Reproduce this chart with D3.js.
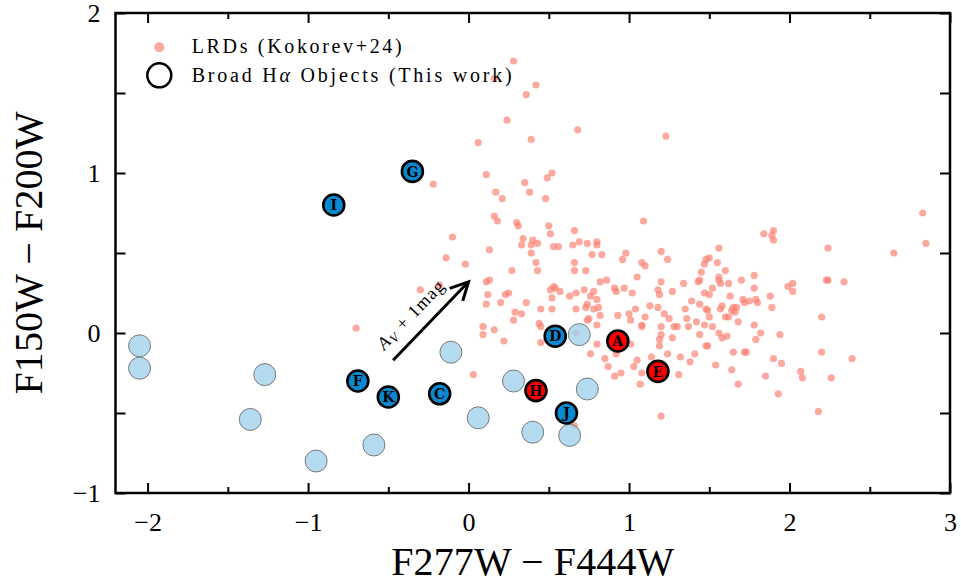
<!DOCTYPE html>
<html>
<head>
<meta charset="utf-8">
<script src="https://cdn.jsdelivr.net/npm/d3@7"></script>
<style>
  body { margin: 0; background: #fff; }
  text { font-family: "Liberation Serif", "DejaVu Serif", serif; }
</style>
</head>
<body>
<div id="chart"></div>
<script>
// --------------------
// DATA
// --------------------
// LRDs (Kokorev+24): [F277W-F444W, F150W-F200W]
const lrdPoints = [
  [0.28,1.70],[0.16,1.59],[0.42,1.55],[0.36,1.49],[0.24,1.33],[0.68,1.27],[0.39,1.21],[0.06,1.19],[1.23,1.23],[0.11,0.99],
  [-0.22,0.93],[0.35,0.94],[0.49,0.97],[0.52,1.00],[0.17,0.88],[0.21,0.84],[0.38,0.88],[0.48,0.84],[0.16,0.73],[0.18,0.70],
  [0.30,0.69],[0.31,0.67],[0.50,0.67],[0.51,0.62],[0.66,0.64],[1.09,0.70],[-0.10,0.60],[0.34,0.59],[0.33,0.55],[0.13,0.52],
  [0.40,0.58],[0.39,0.55],[0.43,0.56],[0.39,0.50],[0.53,0.54],[0.56,0.54],[0.65,0.55],[0.69,0.57],[0.74,0.56],[0.80,0.57],
  [0.80,0.55],[0.77,0.49],[0.83,0.49],[-0.14,0.47],[-0.02,0.43],[0.42,0.44],[0.43,0.39],[0.66,0.44],[0.66,0.39],[0.73,0.39],
  [0.98,0.50],[0.96,0.46],[1.20,0.51],[1.24,0.46],[1.08,0.44],[1.10,0.42],[1.05,0.35],[0.27,0.39],[0.11,0.32],[0.13,0.33],
  [1.20,0.32],[1.34,0.31],[1.43,0.32],[0.82,0.32],[0.86,0.33],[0.91,0.28],[0.92,0.26],[0.97,0.28],[1.02,0.25],[1.18,0.27],
  [1.19,0.24],[1.27,0.26],[1.39,0.20],[0.53,0.29],[0.51,0.27],[0.54,0.28],[0.57,0.26],[0.52,0.22],[0.63,0.23],[0.67,0.25],
  [0.72,0.27],[0.78,0.26],[0.76,0.23],[0.80,0.21],[0.12,0.24],[0.23,0.24],[0.25,0.25],[0.11,0.18],[0.20,0.19],[0.36,0.19],
  [0.74,0.18],[0.73,0.16],[0.78,0.15],[0.81,0.16],[0.82,0.11],[0.67,0.15],[0.52,0.15],[0.45,0.15],[0.29,0.13],[0.33,0.12],
  [0.28,0.08],[0.93,0.11],[1.00,0.12],[1.04,0.15],[1.10,0.10],[1.01,0.08],[1.08,0.05],[1.08,0.04],[1.13,0.17],[1.18,0.16],
  [1.22,0.12],[1.25,0.09],[1.35,0.15],[1.36,0.09],[1.28,0.04],[1.30,0.04],[1.20,0.04],[1.37,0.04],[1.42,0.07],[0.74,0.08],
  [0.75,0.09],[0.80,0.05],[0.45,0.04],[0.44,0.06],[0.09,0.04],[0.16,0.02],[0.09,-0.01],[0.67,0.00],[1.20,-0.01],[1.19,-0.04],
  [1.27,-0.03],[1.44,-0.01],[0.22,-0.05],[0.45,-0.06],[0.80,-0.07],[1.01,-0.07],[1.19,-0.08],[0.76,-0.13],[1.24,-0.13],[0.85,-0.16],
  [0.92,-0.13],[1.14,-0.15],[1.32,-0.15],[1.38,-0.18],[1.05,-0.17],[1.03,-0.21],[0.87,-0.21],[1.08,-0.25],[0.95,-0.25],[0.91,-0.27],
  [1.31,-0.26],[1.07,-0.32],[0.03,-0.26],[1.41,-0.13],[1.20,-0.52],[-0.70,0.03],[-0.30,0.27],[-0.18,0.30],[0.66,-0.58],
  [2.83,0.75],[2.85,0.56],[2.65,0.50],[1.84,0.62],[1.90,0.64],[1.89,0.61],[1.90,0.58],[2.24,0.53],[1.56,0.53],[1.48,0.46],
  [1.50,0.47],[1.55,0.44],[1.47,0.43],[1.45,0.38],[1.60,0.39],[1.56,0.35],[1.56,0.33],[1.57,0.31],[1.44,0.33],[1.62,0.31],
  [1.70,0.33],[1.78,0.36],[1.78,0.28],[1.88,0.23],[1.89,0.16],[1.52,0.28],[1.50,0.24],[1.47,0.25],[1.63,0.23],[1.44,0.18],
  [1.71,0.21],[1.75,0.20],[1.72,0.19],[1.79,0.21],[1.80,0.19],[1.58,0.17],[1.57,0.15],[1.65,0.16],[1.67,0.16],[1.64,0.14],
  [1.66,0.13],[1.48,0.15],[1.49,0.14],[1.50,0.10],[1.60,0.10],[1.62,0.10],[1.68,0.07],[1.47,0.05],[1.52,0.04],[1.78,0.05],
  [1.82,0.00],[1.56,0.00],[1.58,-0.03],[1.61,-0.02],[1.79,-0.04],[1.94,-0.01],[1.48,-0.08],[1.49,-0.08],[1.65,-0.12],[1.72,-0.12],
  [1.73,-0.12],[1.54,-0.20],[1.64,-0.23],[1.90,-0.16],[1.95,-0.19],[1.68,-0.32],[1.85,-0.27],[1.93,-0.38],[1.99,0.29],[2.02,0.31],
  [2.02,0.26],[2.23,0.33],[2.24,0.33],[2.34,0.32],[2.20,0.10],[2.20,-0.12],[2.39,-0.16],[2.07,-0.24],[2.08,-0.28],[2.26,-0.28],
  [2.18,-0.49]
];

// light blue (unlabelled) broad H-alpha positions
const faintX = [-2.05, -2.05, -1.27, -1.36, -0.95, -0.59, -0.11, 0.06, 0.28, 0.69, 0.74, 0.40, 0.63];
const faintY = [-0.08, -0.22, -0.26, -0.54, -0.80, -0.70, -0.12, -0.53, -0.30, -0.01, -0.35, -0.62, -0.64];

// labelled broad H-alpha objects
const objNames = ["G", "I", "F", "K", "C", "D", "A", "E", "H", "J"];
const objX = [-0.35, -0.84, -0.69, -0.50, -0.18, 0.54, 0.93, 1.18, 0.42, 0.61];
const objY = [1.01, 0.80, -0.30, -0.40, -0.38, -0.02, -0.05, -0.24, -0.36, -0.50];
const objKind = ["blue", "blue", "blue", "blue", "blue", "blue", "red", "red", "red", "blue"];

const xMajor = [-2, -1, 0, 1, 2, 3];
const xMinor = [-1.5, -0.5, 0.5, 1.5, 2.5];
const yMajor = [-1, -0.5, 0, 0.5, 1, 1.5, 2];
const yLabels = [-1, 0, 1, 2];

// reddening vector (A_V + 1 mag)
const arrowFrom = [-0.47, -0.17];
const arrowTo = [0.0, 0.32];


// --------------------
// CHART
// --------------------
const width = 961;
const height = 583;
const mLeft = 115.5, mRight = 950, mTop = 13, mBottom = 493;

const svg = d3.select("#chart")
  .append("svg")
  .attr("width", width)
  .attr("height", height);

const x = d3.scaleLinear().domain([-2.2, 3]).range([mLeft, mRight]);
const y = d3.scaleLinear().domain([-1, 2]).range([mBottom, mTop]);

const kindColor = { blue: "#0a89d0", red: "#ff0000" };


// LRD points
svg.append("g")
  .selectAll("circle")
  .data(lrdPoints)
  .join("circle")
  .attr("cx", d => x(d[0]))
  .attr("cy", d => y(d[1]))
  .attr("r", 3.6)
  .attr("fill", "#fa8072")
  .attr("fill-opacity", 0.68);

// faint circles
svg.append("g")
  .selectAll("circle")
  .data(faintX)
  .join("circle")
  .attr("cx", d => x(d))
  .attr("cy", (d, i) => y(faintY[i]))
  .attr("r", 11)
  .attr("fill", "#a3d2ee")
  .attr("fill-opacity", 0.8)
  .attr("stroke", "#7a7a7a")
  .attr("stroke-width", 1);

// labelled objects
const obj = svg.append("g")
  .selectAll("g")
  .data(objNames)
  .join("g")
  .attr("transform", (d, i) => `translate(${x(objX[i])},${y(objY[i])})`);

obj.append("circle")
  .attr("r", 10.5)
  .attr("fill", (d, i) => kindColor[objKind[i]])
  .attr("stroke", "#000")
  .attr("stroke-width", 2.6);

obj.append("text")
  .attr("text-anchor", "middle")
  .attr("dy", "0.37em")
  .style("font-family", "'DejaVu Serif', serif")
  .style("font-weight", "bold")
  .style("font-size", "14px")
  .text(d => d);


// --------------------
// ARROW
// --------------------
const ax0 = x(arrowFrom[0]), ay0 = y(arrowFrom[1]);
const ax1 = x(arrowTo[0]), ay1 = y(arrowTo[1]);
const ang = Math.atan2(ay1 - ay0, ax1 - ax0);
const headLen = 20, headAng = 27 * Math.PI / 180;

svg.append("line")
  .attr("x1", ax0).attr("y1", ay0)
  .attr("x2", ax1).attr("y2", ay1)
  .attr("stroke", "#000")
  .attr("stroke-width", 3);

svg.append("path")
  .attr("d", `M${ax1 - headLen * Math.cos(ang - headAng)},${ay1 - headLen * Math.sin(ang - headAng)}
    L${ax1},${ay1}
    L${ax1 - headLen * Math.cos(ang + headAng)},${ay1 - headLen * Math.sin(ang + headAng)}`)
  .attr("fill", "none")
  .attr("stroke", "#000")
  .attr("stroke-width", 3)
  .attr("stroke-linejoin", "miter");

const len = Math.hypot(ax1 - ax0, ay1 - ay0);
const tx = ax0 + Math.cos(ang) * len * 0.41 + Math.sin(ang) * 13;
const ty = ay0 + Math.sin(ang) * len * 0.41 - Math.cos(ang) * 13;

const arrowLabel = svg.append("text")
  .attr("transform", `translate(${tx},${ty}) rotate(${ang * 180 / Math.PI})`)
  .attr("text-anchor", "middle")
  .attr("textLength", 88)
  .style("font-size", "18px");
arrowLabel.append("tspan").style("font-style", "italic").text("A");
arrowLabel.append("tspan").style("font-style", "italic").style("font-size", "13px").attr("dy", 3).text("V");
arrowLabel.append("tspan").attr("dy", -3).text(" + 1mag");


// --------------------
// AXES
// --------------------
function ticks(axis, pos, size, vals) {
  return svg.append("g")
    .attr("transform", pos)
    .call(axis.tickValues(vals).tickSize(-size).tickFormat(""))
    .call(g => g.select(".domain").remove())
    .call(g => g.selectAll("line").attr("stroke", "#000").attr("stroke-width", 2));
}

ticks(d3.axisBottom(x), `translate(0,${mBottom})`, 10, xMajor);
ticks(d3.axisBottom(x), `translate(0,${mBottom})`, 6, xMinor);
ticks(d3.axisTop(x), `translate(0,${mTop})`, 10, xMajor);
ticks(d3.axisTop(x), `translate(0,${mTop})`, 6, xMinor);
ticks(d3.axisLeft(y), `translate(${mLeft},0)`, 10, yMajor);
ticks(d3.axisRight(y), `translate(${mRight},0)`, 10, yMajor);

// tick labels
svg.append("g")
  .attr("transform", `translate(0,${mBottom})`)
  .call(d3.axisBottom(x).tickValues(xMajor).tickSize(0).tickPadding(20).tickFormat(d3.format("d")))
  .call(g => g.select(".domain").remove())
  .call(g => g.selectAll("text")
    .attr("fill", "#000")
    .style("font-family", "'Liberation Serif', serif")
    .style("font-size", "26px"));

svg.append("g")
  .attr("transform", `translate(${mLeft},0)`)
  .call(d3.axisLeft(y).tickValues(yLabels).tickSize(0).tickPadding(15).tickFormat(d3.format("d")))
  .call(g => g.select(".domain").remove())
  .call(g => g.selectAll("text")
    .attr("fill", "#000")
    .style("font-family", "'Liberation Serif', serif")
    .style("font-size", "26px"));

// frame
svg.append("rect")
  .attr("x", mLeft).attr("y", mTop)
  .attr("width", mRight - mLeft).attr("height", mBottom - mTop)
  .attr("fill", "none")
  .attr("stroke", "#000")
  .attr("stroke-width", 2.5);

// axis titles
svg.append("text")
  .attr("x", (mLeft + mRight) / 2)
  .attr("y", 575)
  .attr("text-anchor", "middle")
  .attr("textLength", 283)
  .style("font-size", "40px")
  .text("F277W − F444W");

svg.append("text")
  .attr("transform", `translate(42,${(mTop + mBottom) / 2}) rotate(-90)`)
  .attr("text-anchor", "middle")
  .attr("textLength", 283)
  .style("font-size", "40px")
  .text("F150W − F200W");


// --------------------
// LEGEND
// --------------------
svg.append("circle")
  .attr("cx", 159.3).attr("cy", 47.3)
  .attr("r", 5)
  .attr("fill", "#fa8072")
  .attr("fill-opacity", 0.68);

svg.append("text")
  .attr("x", 191.7).attr("y", 52.7)
  .attr("textLength", 210)
  .style("font-size", "20px")
  .text("LRDs (Kokorev+24)");

svg.append("circle")
  .attr("cx", 159.3).attr("cy", 75.3)
  .attr("r", 12)
  .attr("fill", "none")
  .attr("stroke", "#000")
  .attr("stroke-width", 2.5);

const leg2 = svg.append("text")
  .attr("x", 191.7).attr("y", 81.7)
  .attr("textLength", 320)
  .style("font-size", "20px");
leg2.append("tspan").text("Broad H");
leg2.append("tspan").style("font-style", "italic").text("α");
leg2.append("tspan").text(" Objects (This work)");
</script>
</body>
</html>
